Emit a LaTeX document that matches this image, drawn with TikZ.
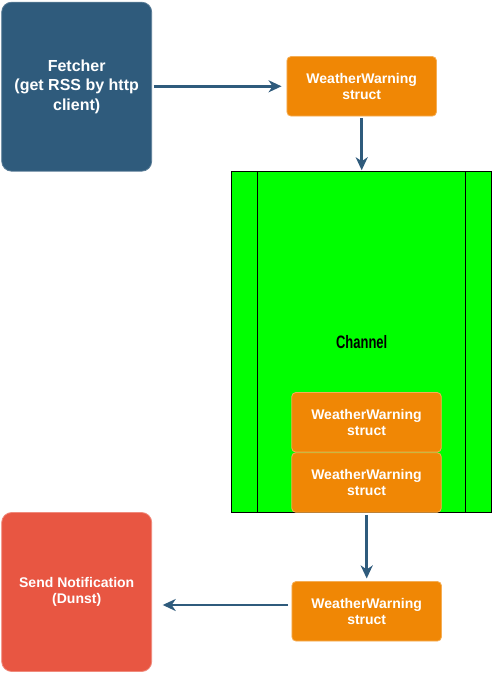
\documentclass[tikz,border=0pt]{standalone}
\usepackage{fontspec}
\setmainfont{Liberation Sans}
\usetikzlibrary{arrows.meta}
\definecolor{fetchblue}{HTML}{2F5B7C}
\definecolor{wworange}{HTML}{F08705}
\definecolor{wwborder}{HTML}{F5AE55}
\definecolor{sendred}{HTML}{E85642}
\definecolor{sendborder}{HTML}{F08A7C}
\definecolor{chgreen}{HTML}{00FF00}
\definecolor{arrblue}{HTML}{2F5B7C}
\tikzset{
  bigbox/.style={rectangle, rounded corners=10pt, inner sep=0pt, align=center,
    text=white, font=\bfseries\fontsize{14}{16}\selectfont,
    minimum width=150pt},
  wwbox/.style={rectangle, rounded corners=4pt, fill=wworange, draw=wwborder,
    line width=0.8pt, inner sep=0pt, align=center, text=white,
    font=\bfseries\fontsize{14}{15.5}\selectfont,
    minimum width=149.5pt, minimum height=59.5pt},
  arr/.style={draw=arrblue, line width=2.5pt,
    -{Stealth[length=13pt,width=12pt,inset=4pt]}},
}
\begin{document}
\begin{tikzpicture}[x=1pt,y=-1pt]
\useasboundingbox (0,0) rectangle (492,674);
% Fetcher
\node[bigbox, fill=fetchblue, draw=fetchblue!80!white, line width=0.8pt,
  minimum height=169pt, font=\bfseries\fontsize{16}{19.3}\selectfont]
  (fetcher) at (76.7,86.7) {Fetcher\\(get RSS by http\\client)};
% WW1
\node[wwbox] (ww1) at (361.7,86.3) {WeatherWarning\\struct};
% Channel
\node[rectangle, draw=black, line width=1pt, fill=chgreen, inner sep=0pt,
  minimum width=259.5pt, minimum height=340.5pt]
  (channel) at (361.7,342) {};
\draw[line width=1pt] ([xshift=25.6pt]channel.north west) -- ([xshift=25.6pt]channel.south west);
\draw[line width=1pt] ([xshift=-26pt]channel.north east) -- ([xshift=-26pt]channel.south east);
\node[font=\bfseries\fontsize{18}{20}\selectfont, text=black, inner sep=0pt]
  (chlabel) at (channel.center) {\scalebox{0.72}[1]{Channel}};
% WW2, WW3
\node[wwbox] (ww2) at (366.5,422.3) {WeatherWarning\\struct};
\node[wwbox] (ww3) at (366.5,482.5) {WeatherWarning\\struct};
% WW4
\node[wwbox] (ww4) at (366.7,611.3) {WeatherWarning\\struct};
% Send Notification
\node[bigbox, fill=sendred, draw=sendborder, line width=0.8pt,
  minimum height=159pt] (send) at (76.7,592) {Send Notification\\(Dunst)};
% connectors
\draw[arr, shorten <=1.5pt, shorten >=5pt] (fetcher.east |- ww1.west) -- (ww1.west);
\draw[arr, shorten <=2pt, shorten >=1pt] (ww1.south) -- (ww1.south |- channel.north);
\draw[arr, shorten <=2pt, shorten >=2.7pt] (ww4.north |- channel.south) -- (ww4.north);
\draw[arr, shorten <=3.4pt, shorten >=10.6pt] ([yshift=6.3pt]ww4.west) -- ([yshift=6.3pt]ww4.west -| send.east);
\end{tikzpicture}
\end{document}
